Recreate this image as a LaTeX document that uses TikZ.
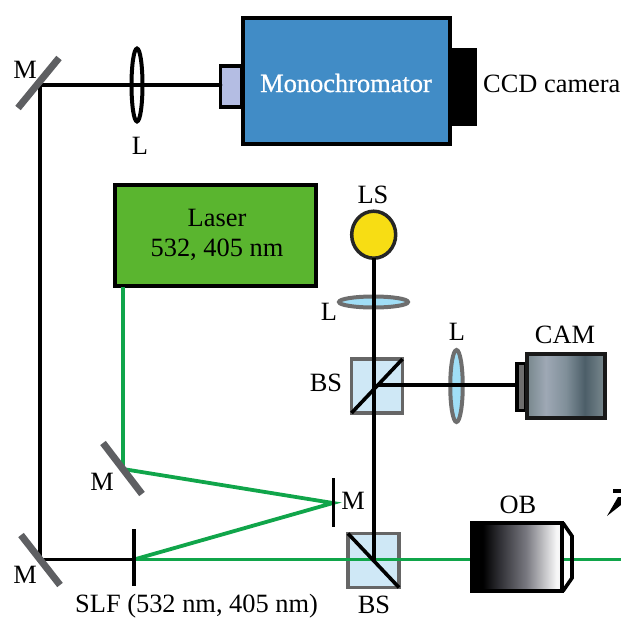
\documentclass[tikz,border=0pt]{standalone}
\usepackage{fontspec}
\setmainfont{Liberation Serif}
\usetikzlibrary{calc,shapes.geometric}
\definecolor{beamgreen}{HTML}{10A54A}
\definecolor{mirrorgray}{HTML}{5E5F62}
\definecolor{monoblue}{HTML}{418CC6}
\definecolor{slitblue}{HTML}{B4BDE3}
\definecolor{lasergreen}{HTML}{5AB52F}
\definecolor{lampyellow}{HTML}{F7DD14}
\definecolor{cubeblue}{HTML}{CFE8F6}
\definecolor{lensblue}{HTML}{A0DEF6}
\definecolor{rimgray}{HTML}{6E6E6E}
\pgfdeclarehorizontalshading{camshade}{100bp}{
  rgb(0bp)=(0.47,0.53,0.55); rgb(25bp)=(0.47,0.53,0.55); rgb(37bp)=(0.62,0.66,0.71); rgb(50bp)=(0.50,0.56,0.60);
  rgb(62bp)=(0.30,0.37,0.41); rgb(75bp)=(0.48,0.54,0.56); rgb(100bp)=(0.48,0.54,0.56)}
\pgfdeclarehorizontalshading{obshade}{100bp}{
  rgb(0bp)=(0,0,0); rgb(31bp)=(0,0,0); rgb(40bp)=(0.18,0.18,0.2); rgb(55bp)=(0.47,0.47,0.50);
  rgb(72bp)=(0.97,0.97,0.97); rgb(100bp)=(0.97,0.97,0.97)}
\tikzset{
  txt/.style={font=\fontsize{26.4}{30}\selectfont,text=black,inner sep=0pt},
  box/.style={rectangle,inner sep=0pt,outer sep=0pt,draw=black,line width=#1},
  box/.default=4pt,
  mirror/.style={draw=mirrorgray,line width=7pt},
  thinmirror/.style={draw=black,line width=3.8pt},
  beam/.style={draw=black,line width=3.6pt},
  gbeam/.style={draw=beamgreen,line width=3.8pt},
  cube/.style={rectangle,inner sep=0pt,outer sep=0pt,draw=black!60,line width=3.5pt,fill=cubeblue,minimum width=51pt,minimum height=54pt},
  split/.style={draw=black,line width=3.6pt},
  lens/.style={ellipse,inner sep=0pt,outer sep=0pt,draw=rimgray,line width=4pt,fill=lensblue},
}
\begin{document}
\begin{tikzpicture}[x=1pt,y=-1pt]
\useasboundingbox (0,0) rectangle (621,622);
% instruments
\node[box=3.5pt,fill=slitblue,minimum width=21pt,minimum height=41pt] (slit) at (231,86.5) {};
\node[box,fill=black,minimum width=24pt,minimum height=74pt] (ccd) at (463,86.5) {};
\node[box,fill=monoblue,minimum width=207pt,minimum height=126pt] (mono) at (346,81) {};
\node[box,fill=lasergreen,minimum width=201pt,minimum height=101pt] (laser) at (215.5,235.5) {};
\node[ellipse,inner sep=0pt,outer sep=0pt,draw=black!85,line width=3.5pt,fill=lampyellow,minimum width=44pt,minimum height=47pt] (lamp) at (373.7,234.7) {};
\node[cube] (bsu) at (377,386) {};
\node[cube] (bsl) at (373.5,560.5) {};
\node[lens,minimum width=69pt,minimum height=11pt] (lensh) at (373.5,302) {};
\node[lens,minimum width=12.5pt,minimum height=72pt] (lensv) at (456.5,386) {};
\node[box=3.5pt,fill=rimgray,minimum width=9pt,minimum height=47pt] (camside) at (521.5,387) {};
\shade[shading=camshade,draw=black!90,line width=3.5pt] (527,354) rectangle (605,418);
% path coordinates
\coordinate (mtl) at (40,85);
\coordinate (mbl) at (40,559.5);
\coordinate (mmid) at (123,469);
\coordinate (slf) at (134,559.5);
\coordinate (mflat) at (333,503);
\coordinate (lasout) at (123,287);
\coordinate (edgeR) at (621,559.5);
\coordinate (bsujoin) at (377,385);
% green beams
\draw[gbeam] (lasout) -- (mmid) -- (mflat) -- (slf);
\draw[gbeam] (slf) -- (edgeR);
\draw[draw=black,line width=3.6pt,line join=miter] (563,523) -- (572,536) -- (572,578) -- (563,591);
\shade[shading=obshade,draw=black,line width=3.5pt] (472,523) rectangle (562,591);
% black beams
\draw[beam,line cap=round] (slit.west |- mtl) -- (mtl) -- (mbl) -- (slf);
\draw[beam] (lamp.south) -- (lamp.south |- bsl.center);
\draw[beam] (bsujoin) -- (camside.west |- bsujoin);
% top lens (no fill)
\node[ellipse,inner sep=0pt,draw=black,line width=4pt,minimum width=11pt,minimum height=73pt] (lenst) at (137,85) {};
% mirrors
\draw[mirror] (18,108) -- (59,58);
\draw[mirror] (21,535) -- (60,585);
\draw[mirror] (103,443) -- (142,494);
\draw[thinmirror] (333.5,478) -- (333.5,527);
\draw[thinmirror] (134,529) -- (134,586);
% splitters
\draw[split] (bsu.north east) -- (bsu.south west);
\draw[split] (bsl.north west) -- (bsl.south east);
% fragment at the right edge
\fill[black] (613,489) rectangle (621,493);
\fill[black] (607,516) -- (618,497) -- (621,497) -- (621,505) -- cycle;
% labels
\node[txt,text=white] (tmono) at (346,83) {\addfontfeature{FakeBold=0.8}Monochromator};
\node[txt,anchor=west] (tccd) at (483,84) {CCD camera};
\node[txt,align=center] (tlaser) at (217,235) {Laser\\532, 405 nm};
\node[txt] (tls) at (373,195) {LS};
\node[txt] (tl1) at (140,146) {L};
\node[txt] (tl2) at (329,312) {L};
\node[txt] (tl3) at (457,332) {L};
\node[txt] (tcam) at (565,335) {CAM};
\node[txt] (tob) at (518,505) {OB};
\node[txt] (tbs1) at (326,383) {BS};
\node[txt] (tbs2) at (374,605) {BS};
\node[txt] (tm1) at (25,70) {M};
\node[txt] (tm2) at (25,575) {M};
\node[txt] (tm3) at (102,482) {M};
\node[txt] (tm4) at (353,501) {M};
\node[txt,anchor=west] (tslf) at (75,606) {SLF (532 nm, 405 nm)};
\end{tikzpicture}
\end{document}
